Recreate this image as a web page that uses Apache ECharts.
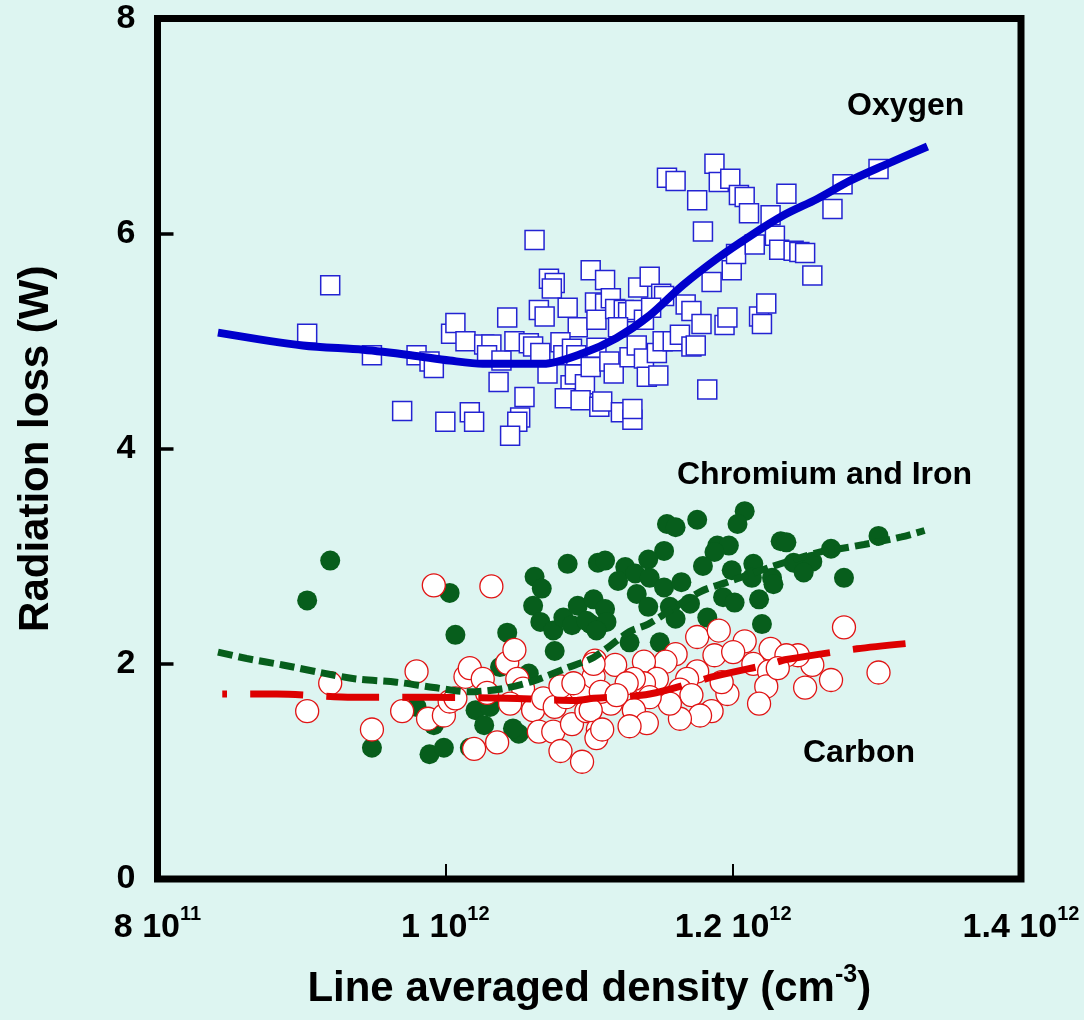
<!DOCTYPE html>
<html>
<head>
<meta charset="utf-8">
<title>Radiation loss vs line averaged density</title>
<script src="https://cdn.jsdelivr.net/npm/echarts/dist/echarts.min.js"></script>
<style>
  html, body { margin: 0; padding: 0; background: #ddf5f1; }
  #chart { width: 1084px; height: 1020px; }
</style>
</head>
<body>
<div id="chart"></div>
<script>
// density in units of 1e12 cm^-3, radiation loss in W
var oxygenX = [1.062,0.920,0.904,0.949,0.980,0.989,0.992,0.970,1.000,1.017,1.020,1.004,1.007,1.014,1.027,1.032,1.029,1.039,1.043,1.048,
  1.058,1.061,1.066,1.037,1.055,1.052,1.050,1.045,1.065,1.069,1.072,1.076,1.074,1.071,1.101,1.111,1.085,1.104,1.111,1.115,
  1.134,1.142,1.150,1.152,1.092,1.105,1.118,1.124,1.127,1.132,1.138,1.143,1.120,1.167,1.171,1.178,1.194,1.196,1.218,1.223,
  1.220,1.080,1.082,1.088,1.091,1.105,1.087,1.090,1.097,1.101,1.114,1.117,1.128,1.133,1.138,1.140,1.147,1.148,1.151,1.158,
  1.163,1.171,1.174,1.185,1.199,1.202,1.215,1.226,1.229,1.232,1.242,1.246,1.250,1.255,1.237,1.269,1.276,1.301,1.154,1.160,
  1.187,1.190,1.198,1.204,1.208,1.211,1.175,1.179,1.182,1.083,1.094,1.107,1.109,1.122,1.130,1.130];
var oxygenY = [5.94,5.52,5.07,4.87,4.87,4.81,4.75,4.35,4.25,4.34,4.25,5.07,5.17,5.00,4.97,4.97,4.87,4.82,5.22,5.00,
  4.98,4.95,4.89,4.62,4.48,4.29,4.25,4.12,5.29,5.23,5.58,5.54,5.49,4.70,5.66,5.57,5.31,5.36,5.35,5.40,
  5.50,5.60,5.44,5.42,5.13,5.20,5.30,5.29,5.27,5.29,5.20,5.31,5.13,5.34,5.28,5.16,5.15,5.22,5.23,5.35,
  5.16,4.99,4.87,4.93,4.87,4.94,4.59,4.69,4.60,4.76,4.81,4.70,4.85,4.96,4.84,4.67,4.89,4.68,5.00,5.00,
  5.06,4.95,4.96,5.55,5.66,5.81,5.90,6.17,5.98,5.85,5.84,5.83,5.82,5.61,6.37,6.23,6.46,6.60,6.52,6.49,
  6.65,6.48,6.51,6.36,6.34,6.19,6.31,6.02,4.55,4.47,4.45,4.39,4.44,4.34,4.27,4.37];

var oxygenFitX = [0.842,0.901,0.943,0.976,1.003,1.026,1.050,1.068,1.096,1.119,1.142,1.165,1.189,1.212,1.235,1.258,1.281,1.304,1.335];
var oxygenFitY = [5.08,4.96,4.92,4.87,4.82,4.79,4.79,4.79,4.89,5.03,5.24,5.52,5.77,5.98,6.17,6.32,6.49,6.63,6.81];

var crFeX = [0.920,0.904,1.003,1.007,0.949,0.989,0.999,0.992,0.980,1.043,1.062,1.067,1.061,1.066,1.075,1.076,1.082,1.088,1.085,1.092,
  1.103,1.106,1.101,1.038,1.058,1.021,1.031,1.027,1.051,1.047,1.017,1.154,1.160,1.175,1.208,1.203,1.152,1.189,1.197,1.187,
  1.111,1.125,1.141,1.120,1.132,1.142,1.152,1.164,1.133,1.141,1.156,1.170,1.160,1.179,1.199,1.214,1.213,1.227,1.233,1.193,
  1.201,1.218,1.220,1.182,1.111,1.098,1.112,1.105,1.128,1.149,1.237,1.301,1.268,1.242,1.255,1.249,1.277,1.228];
var crFeY = [2.96,2.59,2.66,2.27,1.22,1.16,1.22,1.43,1.60,2.29,2.81,2.70,2.54,2.39,2.31,2.12,2.43,2.36,2.93,2.54,
  2.60,2.94,2.37,1.97,1.91,1.57,1.60,1.43,1.35,1.40,1.22,3.30,3.27,3.34,3.42,3.30,3.05,3.10,3.10,3.04,
  2.96,2.90,2.97,2.77,2.84,2.80,2.71,2.76,2.65,2.53,2.53,2.56,2.42,2.91,2.87,2.93,2.80,2.80,3.14,2.62,
  2.57,2.60,2.37,2.43,2.51,2.40,2.39,2.31,2.20,2.20,3.13,3.19,3.07,2.94,2.95,2.85,2.80,2.74];

var crFeFitX = [0.842,0.862,0.887,0.913,0.938,0.966,0.992,1.017,1.040,1.061,1.084,1.103,1.128,1.141,1.177,1.196,1.226,1.260,1.274,1.291,1.317,1.333];
var crFeFitY = [2.11,2.05,1.99,1.92,1.86,1.83,1.78,1.74,1.77,1.84,1.96,2.06,2.30,2.37,2.67,2.76,2.90,3.04,3.07,3.11,3.18,3.24];

var carbonX = [0.992,1.032,0.920,0.904,0.949,0.970,0.980,0.988,0.999,1.003,1.007,1.014,1.017,1.026,1.029,1.020,1.036,1.043,1.048,1.050,
  1.054,1.045,1.061,1.068,1.065,1.075,1.080,1.095,1.088,1.076,1.084,1.094,1.103,1.104,1.098,1.106,1.105,1.080,1.089,1.175,
  1.190,1.208,1.226,1.160,1.153,1.138,1.118,1.103,1.187,1.200,1.214,1.225,1.175,1.168,1.163,1.171,1.196,1.192,1.223,1.218,
  1.185,1.177,1.163,1.156,1.147,1.138,1.131,1.142,1.131,1.140,1.128,1.115,1.108,1.101,1.109,1.126,1.119,1.277,1.301,1.268,
  1.250,1.255,1.245,1.237,1.231];
var carbonY = [2.73,2.72,1.82,1.56,1.39,1.56,1.93,1.49,1.52,1.65,1.68,1.88,1.96,1.86,1.73,1.21,1.27,2.01,2.13,1.86,
  1.77,1.63,1.57,1.68,1.37,1.37,1.19,1.09,1.44,1.60,1.69,1.76,1.88,2.03,1.56,1.39,1.31,1.79,1.82,2.25,
  2.31,2.21,2.14,2.09,2.02,2.02,1.99,2.00,2.08,2.11,2.00,1.93,1.93,1.86,1.76,1.71,1.72,1.83,1.79,1.63,
  1.56,1.52,1.49,1.63,1.86,1.82,1.86,1.69,1.57,1.45,1.42,1.63,1.74,1.57,1.39,1.82,1.71,2.34,1.92,1.85,
  1.78,1.99,2.08,2.08,1.96];

var carbonFitX = [0.845,0.883,0.936,0.989,1.043,1.091,1.103,1.142,1.189,1.226,1.237,1.286,1.329];
var carbonFitY = [1.72,1.72,1.69,1.69,1.68,1.66,1.68,1.72,1.89,2.00,2.04,2.14,2.20];

var xTicks = [0.8, 1.0, 1.2, 1.4];
var yTicks = [0, 2, 4, 6, 8];

function pairs(xs, ys) {
  var out = [];
  for (var i = 0; i < xs.length; i++) out.push([xs[i], ys[i]]);
  return out;
}

function sciLabel(v) {
  var n = v * 1e12;
  var e = Math.floor(Math.log10(n) + 1e-9);
  var m = Math.round(n / Math.pow(10, e) * 10) / 10;
  return m + ' 10{s|' + e + '}';
}

var font = "'Liberation Sans', Arial, Helvetica, sans-serif";
var chart = echarts.init(document.getElementById('chart'));

var option = {
  backgroundColor: '#ddf5f1',
  animation: false,
  textStyle: { fontFamily: font },
  grid: {
    left: 157.5, right: 63, top: 18.5, bottom: 137,
    show: true, borderColor: '#000', borderWidth: 7, backgroundColor: 'transparent'
  },
  xAxis: {
    type: 'value',
    min: xTicks[0], max: xTicks[xTicks.length - 1], interval: 0.2,
    axisLine: { show: false },
    splitLine: { show: false },
    axisTick: { inside: true, length: 15, lineStyle: { color: '#000', width: 2 } },
    axisLabel: {
      margin: 25, color: '#000', fontSize: 34, fontWeight: 'bold', lineHeight: 48,
      formatter: sciLabel,
      rich: { s: { fontSize: 20, fontWeight: 'bold', color: '#000', verticalAlign: 'top', lineHeight: 22 } }
    },
    name: 'Line averaged density (cm{s|-3})',
    nameLocation: 'middle',
    nameGap: 84,
    nameTextStyle: {
      color: '#000', fontSize: 42, fontWeight: 'bold', lineHeight: 52,
      rich: { s: { fontSize: 25, fontWeight: 'bold', color: '#000', verticalAlign: 'top', lineHeight: 26 } }
    }
  },
  yAxis: {
    type: 'value',
    min: yTicks[0], max: yTicks[yTicks.length - 1], interval: 2,
    axisLine: { show: false },
    splitLine: { show: false },
    axisTick: { inside: true, length: 16, lineStyle: { color: '#000', width: 3.5 } },
    axisLabel: { margin: 22, color: '#000', fontSize: 34, fontWeight: 'bold' },
    name: 'Radiation loss (W)',
    nameLocation: 'middle',
    nameGap: 100,
    nameTextStyle: { color: '#000', fontSize: 42, fontWeight: 'bold' }
  },
  series: [
    {
      name: 'Oxygen', type: 'scatter', symbol: 'rect', symbolSize: 19,
      itemStyle: { color: '#fff', borderColor: '#2323d2', borderWidth: 1.5, opacity: 1 },
      data: pairs(oxygenX, oxygenY)
    },
    {
      name: 'Oxygen fit', type: 'line', showSymbol: false, smooth: 0.3,
      lineStyle: { color: '#0000cc', width: 8 },
      data: pairs(oxygenFitX, oxygenFitY)
    },
    {
      name: 'Chromium and Iron', type: 'scatter', symbol: 'circle', symbolSize: 20,
      itemStyle: { color: '#075e1c', opacity: 1 },
      data: pairs(crFeX, crFeY)
    },
    {
      name: 'Chromium and Iron fit', type: 'line', showSymbol: false, smooth: 0.3,
      lineStyle: { color: '#075e1c', width: 7, type: [15, 6] },
      data: pairs(crFeFitX, crFeFitY)
    },
    {
      name: 'Carbon', type: 'scatter', symbol: 'circle', symbolSize: 23,
      itemStyle: { color: '#fff', borderColor: '#e01414', borderWidth: 1.3, opacity: 1 },
      data: pairs(carbonX, carbonY)
    },
    {
      name: 'Carbon fit', type: 'line', showSymbol: false, smooth: 0.3,
      lineStyle: { color: '#dd0000', width: 7, type: [53, 23], dashOffset: 48 },
      data: pairs(carbonFitX, carbonFitY)
    }
  ],
  graphic: [
    { type: 'text', left: 847, top: 90, style: { text: 'Oxygen', fill: '#000', font: 'bold 32px ' + font } },
    { type: 'text', left: 677, top: 459, style: { text: 'Chromium and Iron', fill: '#000', font: 'bold 32px ' + font } },
    { type: 'text', left: 803, top: 737, style: { text: 'Carbon', fill: '#000', font: 'bold 32px ' + font } }
  ]
};

chart.setOption(option);
</script>
</body>
</html>
